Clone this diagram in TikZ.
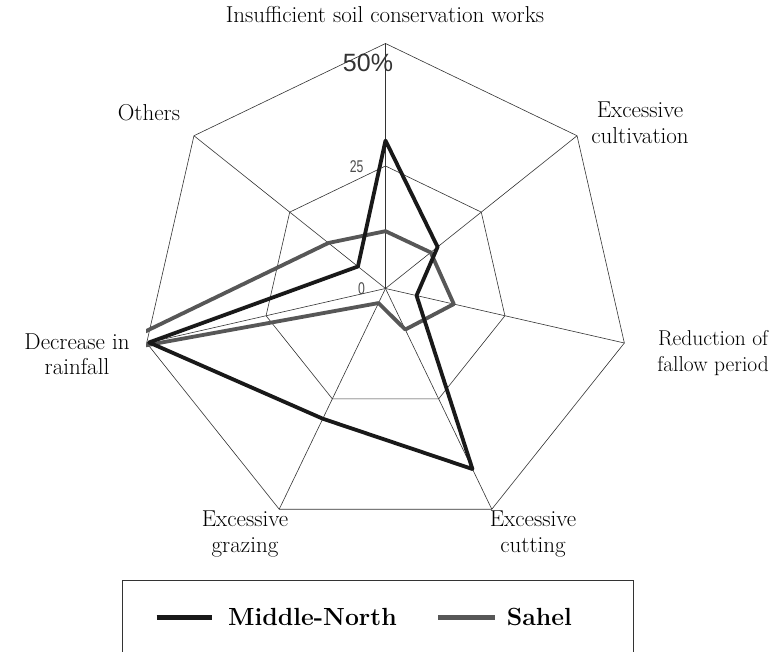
\documentclass[tikz,border=0pt]{standalone}
\usepackage{fontspec}
\newfontfamily\axisfont{Liberation Sans}
\begin{document}
\begin{tikzpicture}[x=1pt,y=1pt,
  lbl/.style={font=\fontsize{23}{25.5}\selectfont, align=center, inner sep=0pt},
  legtext/.style={font=\fontsize{24.8}{26}\selectfont\bfseries, anchor=west, inner sep=0pt},
  gridline/.style={black!80, line width=0.6pt},
  mnline/.style={draw=black!90, line width=3.8pt, line join=round},
  shline/.style={draw=black!66, line width=3.8pt, line join=round},
  ticklbl/.style={font=\axisfont\fontsize{17}{17}\selectfont, text=black!70, xscale=0.72, inner sep=0pt},
]
\useasboundingbox (0,0) rectangle (772,652);

% legend frame (runs past the lower edge)
\begin{scope}
  \clip (0,0) rectangle (772,652);
  \draw[black!80, line width=1pt] (122,71) rectangle (633,-20);
\end{scope}

% radar chart, centre and 50% radius
\begin{scope}[shift={(385.5,363.5)}]
  % spokes
  \foreach \k in {0,...,6} \draw[gridline] (0,0) -- ({90-\k*360/7}:245);
  % rings at 25% and 50%
  \foreach \r in {122.5,245}
    \draw[gridline] (90:\r) \foreach \k in {1,...,6}{ -- ({90-\k*360/7}:\r)} -- cycle;

  \begin{scope}
    \clip (-239.5,-300) rectangle (300,300);
    % Sahel
    \draw[shline] (90:{11.7*4.9}) -- ({90-1*360/7}:{11.8*4.9}) -- ({90-2*360/7}:{14.3*4.9})
      -- ({90-3*360/7}:{9.3*4.9}) -- ({90-4*360/7}:{3.3*4.9}) -- ({90-5*360/7}:{60*4.9})
      -- ({90-6*360/7}:{14.9*4.9}) -- cycle;
    % Middle-North
    \draw[mnline] (90:{30.2*4.9}) -- ({90-1*360/7}:{13.6*4.9}) -- ({90-2*360/7}:{6.5*4.9})
      -- ({90-3*360/7}:{40.9*4.9}) -- ({90-4*360/7}:{29.5*4.9}) -- ({90-5*360/7}:{49.5*4.9})
      -- ({90-6*360/7}:{7.2*4.9}) -- cycle;
  \end{scope}
\end{scope}

% scale labels
\node[ticklbl] (t0) at (361.5,363) {0};
\node[ticklbl] (t25) at (356.7,485.3) {25};
\node[font=\axisfont\fontsize{25}{25}\selectfont, text=black!80, inner sep=0pt] (t50) at (368,589) {50\%};

% category labels
\node[lbl] (c1) at (385,637) {Insufficient soil conservation works};
\node[lbl] (c2) at (640,529) {Excessive\\cultivation};
\node[lbl, font=\fontsize{21.5}{25.5}\selectfont, anchor=east] (c3) at (769,299) {Reduction of\\fallow period};
\node[lbl] (c4) at (533,118) {Excessive\\cutting};
\node[lbl] (c5) at (245,118) {Excessive\\grazing};
\node[lbl] (c6) at (77,298) {Decrease in\\rainfall};
\node[lbl] (c7) at (149,539) {Others};

% legend entries
\coordinate (la) at (156.7,34.7);
\coordinate (lb) at (212.3,34.7);
\coordinate (lc) at (438,34.7);
\coordinate (ld) at (495,34.7);
\draw[black!90, line width=5pt] (la) -- (lb);
\node[legtext] (lmn) at (228,34.7) {Middle-North};
\draw[black!66, line width=5pt] (lc) -- (ld);
\node[legtext] (lsh) at (506.7,34.7) {Sahel};
\end{tikzpicture}
\end{document}
